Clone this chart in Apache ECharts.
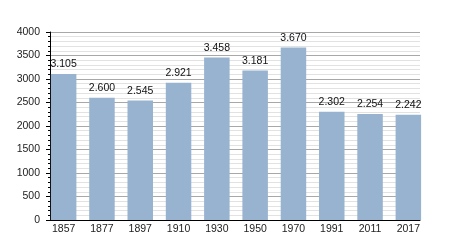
<!DOCTYPE html>
<html><head><meta charset="utf-8">
<script src="https://cdn.jsdelivr.net/npm/echarts@6/dist/echarts.min.js"></script>
<style>html,body{margin:0;padding:0;background:#fff}#c{width:450px;height:250px}</style>
</head><body><div id="c"></div>
<script>
const years = ['1857','1877','1897','1910','1930','1950','1970','1991','2011','2017'];
const population = [3105,2600,2545,2921,3458,3181,3670,2302,2254,2242];
const yTicks = [0,500,1000,1500,2000,2500,3000,3500,4000];

const chart = echarts.init(document.getElementById('c'), null, {renderer:'canvas'});
const font = 'Liberation Sans, Arial, sans-serif';
function fmt(v){ const s=String(v); return s.length>3 ? s.slice(0,s.length-3)+'.'+s.slice(-3) : s; }
chart.setOption({
  animation:false,
  grid:[
    {left:44.5, top:32, width:383, height:188},
    {left:50, top:32, width:370, height:188}
  ],
  xAxis:[
    {type:'category', gridIndex:0, data:years, axisLine:{show:false}, axisTick:{show:false},
     axisLabel:{color:'#222', fontFamily:font, fontSize:10.5, margin:4}},
    {type:'category', gridIndex:1, data:years, axisLine:{lineStyle:{color:'#000',width:1}}, axisTick:{show:false},
     axisLabel:{show:false}, splitLine:{show:false}}
  ],
  yAxis:[
    {type:'value', gridIndex:0, min:0, max:4000, interval:500, show:false, splitLine:{show:false}},
    {type:'value', gridIndex:1, min:0, max:4000, interval:500,
     axisLine:{show:true, lineStyle:{color:'#000',width:1}},
     axisTick:{show:true, length:4, lineStyle:{color:'#000'}},
     minorTick:{show:true, splitNumber:5, length:2, lineStyle:{color:'#000'}},
     splitLine:{show:true, lineStyle:{color:'#a8a8a8', width:1}},
     minorSplitLine:{show:true, lineStyle:{color:'#e2e2e2', width:1}},
     axisLabel:{color:'#222', fontFamily:font, fontSize:10.5, margin:10,
                formatter:v=>yTicks.includes(v)?String(v):''}}
  ],
  series:[
    {type:'bar', xAxisIndex:0, yAxisIndex:0, data:population, barWidth:25.5, z:3,
     itemStyle:{color:'#98b3cf'},
     label:{show:true, position:'top', distance:4, color:'#111', fontFamily:font, fontSize:10.5,
            formatter:p=>fmt(p.value)}}
  ]
});
</script></body></html>
